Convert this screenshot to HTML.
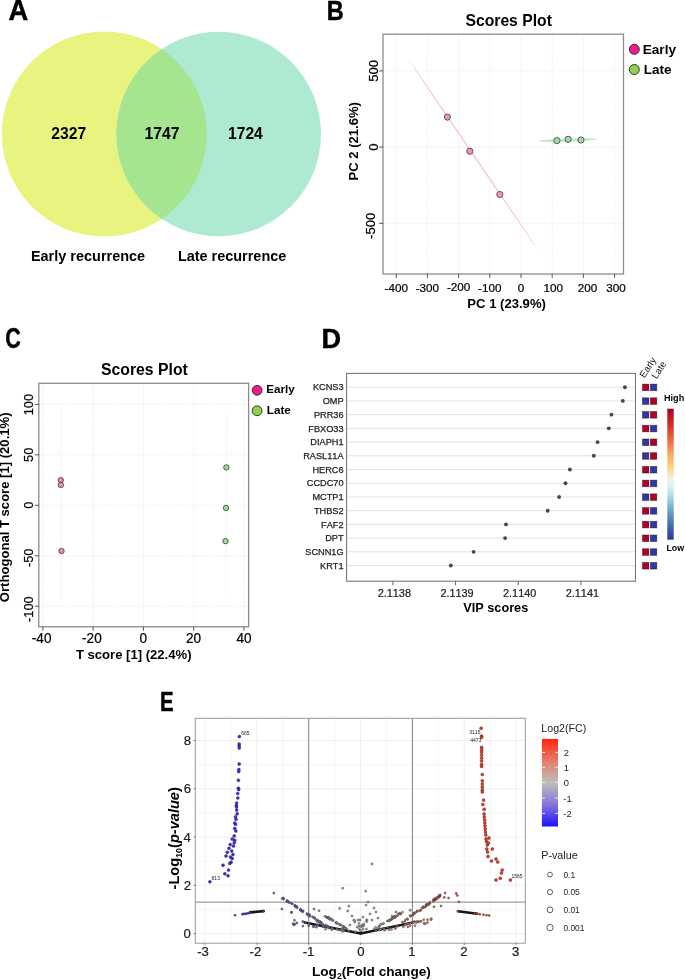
<!DOCTYPE html>
<html><head><meta charset="utf-8"><style>html,body{margin:0;padding:0;background:#fff;overflow:hidden;}svg{display:block;}#w{width:685px;height:980px;overflow:hidden;will-change:transform;}</style></head><body><div id="w">
<svg width="685" height="980" viewBox="0 0 685 980" font-family="Liberation Sans, sans-serif" style="font-kerning:none">
<g>
<rect width="685" height="980" fill="#fff"/>
<defs><clipPath id="cl"><circle cx="104.3" cy="134.0" r="102.5"/></clipPath></defs>
<circle cx="104.3" cy="134.0" r="102.5" fill="#E9F380"/>
<circle cx="218.7" cy="134.0" r="102.3" fill="#AEE9D1"/>
<circle cx="218.7" cy="134.0" r="102.3" fill="#A6E590" clip-path="url(#cl)"/>
<text transform="matrix(0.9480,0,0,1,8.54,19.67)" x="0" y="0" font-size="28.85" font-weight="bold" fill="#000" stroke="#000" stroke-width="0.45" stroke-linejoin="round">A</text>
<text x="51.26" y="139.00" font-size="15.70" font-weight="bold" font-style="normal" fill="#000" >2327</text>
<text x="144.41" y="138.50" font-size="15.77" font-weight="bold" font-style="normal" fill="#000" >1747</text>
<text x="228.02" y="138.50" font-size="15.63" font-weight="bold" font-style="normal" fill="#000" >1724</text>
<text x="30.93" y="261.10" font-size="14.47" font-weight="bold" font-style="normal" fill="#000" >Early recurrence</text>
<text x="177.93" y="260.50" font-size="14.44" font-weight="bold" font-style="normal" fill="#000" >Late recurrence</text>
<line x1="396.24" y1="34.2" x2="396.24" y2="274.0" stroke="#dedede" stroke-width="0.7" stroke-dasharray="1,1.4"/>
<line x1="427.43" y1="34.2" x2="427.43" y2="274.0" stroke="#dedede" stroke-width="0.7" stroke-dasharray="1,1.4"/>
<line x1="458.62" y1="34.2" x2="458.62" y2="274.0" stroke="#dedede" stroke-width="0.7" stroke-dasharray="1,1.4"/>
<line x1="489.81" y1="34.2" x2="489.81" y2="274.0" stroke="#dedede" stroke-width="0.7" stroke-dasharray="1,1.4"/>
<line x1="521.00" y1="34.2" x2="521.00" y2="274.0" stroke="#dedede" stroke-width="0.7" stroke-dasharray="1,1.4"/>
<line x1="552.19" y1="34.2" x2="552.19" y2="274.0" stroke="#dedede" stroke-width="0.7" stroke-dasharray="1,1.4"/>
<line x1="583.38" y1="34.2" x2="583.38" y2="274.0" stroke="#dedede" stroke-width="0.7" stroke-dasharray="1,1.4"/>
<line x1="614.57" y1="34.2" x2="614.57" y2="274.0" stroke="#dedede" stroke-width="0.7" stroke-dasharray="1,1.4"/>
<line x1="383.0" y1="223.30" x2="623.5" y2="223.30" stroke="#dedede" stroke-width="0.7" stroke-dasharray="1,1.4"/>
<line x1="383.0" y1="147.10" x2="623.5" y2="147.10" stroke="#dedede" stroke-width="0.7" stroke-dasharray="1,1.4"/>
<line x1="383.0" y1="70.90" x2="623.5" y2="70.90" stroke="#dedede" stroke-width="0.7" stroke-dasharray="1,1.4"/>
<ellipse cx="472.85" cy="154.05" rx="114.5" ry="0.72" transform="rotate(55.77 472.85 154.05)" fill="#F7C6D4"/>
<ellipse cx="568.4" cy="140.2" rx="29.5" ry="1.6" transform="rotate(-2 568.4 140.2)" fill="#BDE5BD" opacity="0.9"/>
<circle cx="447.4" cy="117.1" r="3.1" fill="#F394B2" stroke="#474747" stroke-width="0.85"/>
<circle cx="469.8" cy="151.2" r="3.1" fill="#F394B2" stroke="#474747" stroke-width="0.85"/>
<circle cx="499.8" cy="194.5" r="3.1" fill="#F394B2" stroke="#474747" stroke-width="0.85"/>
<circle cx="556.9" cy="140.6" r="3.1" fill="#A2DCA2" stroke="#474747" stroke-width="0.85"/>
<circle cx="568.1" cy="139.3" r="3.1" fill="#A2DCA2" stroke="#474747" stroke-width="0.85"/>
<circle cx="581.0" cy="140.0" r="3.1" fill="#A2DCA2" stroke="#474747" stroke-width="0.85"/>
<rect x="383.0" y="34.2" width="240.5" height="239.8" fill="none" stroke="#8c8c8c" stroke-width="1.3"/>
<line x1="396.24" y1="274.0" x2="396.24" y2="278.0" stroke="#444" stroke-width="0.9"/>
<text x="384.50" y="291.80" font-size="11.70" font-weight="normal" font-style="normal" fill="#000" text-anchor="start" stroke="#000" stroke-width="0.22" >-400</text>
<line x1="427.43" y1="274.0" x2="427.43" y2="278.0" stroke="#444" stroke-width="0.9"/>
<text x="415.69" y="291.80" font-size="11.70" font-weight="normal" font-style="normal" fill="#000" text-anchor="start" stroke="#000" stroke-width="0.22" >-300</text>
<line x1="458.62" y1="274.0" x2="458.62" y2="278.0" stroke="#444" stroke-width="0.9"/>
<text x="446.88" y="291.00" font-size="11.70" font-weight="normal" font-style="normal" fill="#000" text-anchor="start" stroke="#000" stroke-width="0.22" >-200</text>
<line x1="489.81" y1="274.0" x2="489.81" y2="278.0" stroke="#444" stroke-width="0.9"/>
<text x="478.07" y="291.80" font-size="11.70" font-weight="normal" font-style="normal" fill="#000" text-anchor="start" stroke="#000" stroke-width="0.22" >-100</text>
<line x1="521.00" y1="274.0" x2="521.00" y2="278.0" stroke="#444" stroke-width="0.9"/>
<text x="517.75" y="291.80" font-size="11.70" font-weight="normal" font-style="normal" fill="#000" text-anchor="start" stroke="#000" stroke-width="0.22" >0</text>
<line x1="552.19" y1="274.0" x2="552.19" y2="278.0" stroke="#444" stroke-width="0.9"/>
<text x="543.41" y="291.80" font-size="11.70" font-weight="normal" font-style="normal" fill="#000" text-anchor="start" stroke="#000" stroke-width="0.22" >100</text>
<line x1="583.38" y1="274.0" x2="583.38" y2="278.0" stroke="#444" stroke-width="0.9"/>
<text x="577.75" y="291.80" font-size="11.70" font-weight="normal" font-style="normal" fill="#000" text-anchor="start" stroke="#000" stroke-width="0.22" >200</text>
<line x1="614.57" y1="274.0" x2="614.57" y2="278.0" stroke="#444" stroke-width="0.9"/>
<text x="606.22" y="291.80" font-size="11.70" font-weight="normal" font-style="normal" fill="#000" text-anchor="start" stroke="#000" stroke-width="0.22" >300</text>
<line x1="379.0" y1="223.30" x2="383.0" y2="223.30" stroke="#444" stroke-width="0.9"/>
<text transform="translate(374.70,238.94) rotate(-90)" x="0" y="0" font-size="13.10" font-weight="normal" font-style="normal" fill="#000" stroke="#000" stroke-width="0.22">-500</text>
<line x1="379.0" y1="147.10" x2="383.0" y2="147.10" stroke="#444" stroke-width="0.9"/>
<text transform="translate(377.70,150.74) rotate(-90)" x="0" y="0" font-size="13.10" font-weight="normal" font-style="normal" fill="#000" stroke="#000" stroke-width="0.22">0</text>
<line x1="379.0" y1="70.90" x2="383.0" y2="70.90" stroke="#444" stroke-width="0.9"/>
<text transform="translate(377.70,81.83) rotate(-90)" x="0" y="0" font-size="13.10" font-weight="normal" font-style="normal" fill="#000" stroke="#000" stroke-width="0.22">500</text>
<text transform="matrix(0.8409,0,0,1,326.65,20.47)" x="0" y="0" font-size="27.98" font-weight="bold" fill="#000" stroke="#000" stroke-width="0.45" stroke-linejoin="round">B</text>
<text x="465.45" y="26.20" font-size="15.73" font-weight="bold" font-style="normal" fill="#000" >Scores Plot</text>
<text x="467.32" y="308.20" font-size="13.10" font-weight="bold" font-style="normal" fill="#000" >PC 1 (23.9%)</text>
<text transform="translate(357.60,180.47) rotate(-90)" x="0" y="0" font-size="13.07" font-weight="bold" font-style="normal" fill="#000">PC 2 (21.6%)</text>
<circle cx="634.3" cy="49.35" r="5.0" fill="#EC1E8C" stroke="#222" stroke-width="0.9"/>
<circle cx="634.3" cy="69.55" r="5.0" fill="#8FD14F" stroke="#222" stroke-width="0.9"/>
<text x="642.69" y="53.70" font-size="13.65" font-weight="bold" font-style="normal" fill="#000" >Early</text>
<text x="643.70" y="74.20" font-size="13.50" font-weight="bold" font-style="normal" fill="#000" >Late</text>
<line x1="42.88" y1="383.3" x2="42.88" y2="626.8" stroke="#dedede" stroke-width="0.7" stroke-dasharray="1,1.4"/>
<line x1="93.14" y1="383.3" x2="93.14" y2="626.8" stroke="#dedede" stroke-width="0.7" stroke-dasharray="1,1.4"/>
<line x1="143.40" y1="383.3" x2="143.40" y2="626.8" stroke="#dedede" stroke-width="0.7" stroke-dasharray="1,1.4"/>
<line x1="193.66" y1="383.3" x2="193.66" y2="626.8" stroke="#dedede" stroke-width="0.7" stroke-dasharray="1,1.4"/>
<line x1="243.92" y1="383.3" x2="243.92" y2="626.8" stroke="#dedede" stroke-width="0.7" stroke-dasharray="1,1.4"/>
<line x1="38.8" y1="606.25" x2="248.6" y2="606.25" stroke="#dedede" stroke-width="0.7" stroke-dasharray="1,1.4"/>
<line x1="38.8" y1="555.77" x2="248.6" y2="555.77" stroke="#dedede" stroke-width="0.7" stroke-dasharray="1,1.4"/>
<line x1="38.8" y1="505.30" x2="248.6" y2="505.30" stroke="#dedede" stroke-width="0.7" stroke-dasharray="1,1.4"/>
<line x1="38.8" y1="454.82" x2="248.6" y2="454.82" stroke="#dedede" stroke-width="0.7" stroke-dasharray="1,1.4"/>
<line x1="38.8" y1="404.35" x2="248.6" y2="404.35" stroke="#dedede" stroke-width="0.7" stroke-dasharray="1,1.4"/>
<line x1="60.8" y1="409" x2="61.2" y2="600" stroke="#FDEEF2" stroke-width="0.8"/>
<line x1="226.6" y1="415.7" x2="225.8" y2="593" stroke="#EEF8EE" stroke-width="0.8"/>
<circle cx="60.8" cy="480.2" r="2.7" fill="#F28DAD" stroke="#3a3a3a" stroke-width="0.8"/>
<circle cx="60.8" cy="484.9" r="2.7" fill="#F28DAD" stroke="#3a3a3a" stroke-width="0.8"/>
<circle cx="61.5" cy="551.0" r="2.7" fill="#F28DAD" stroke="#3a3a3a" stroke-width="0.8"/>
<circle cx="226.4" cy="467.4" r="2.7" fill="#9FDB9F" stroke="#3a3a3a" stroke-width="0.8"/>
<circle cx="226.0" cy="507.9" r="2.7" fill="#9FDB9F" stroke="#3a3a3a" stroke-width="0.8"/>
<circle cx="225.5" cy="541.1" r="2.7" fill="#9FDB9F" stroke="#3a3a3a" stroke-width="0.8"/>
<rect x="38.8" y="383.3" width="209.8" height="243.49999999999994" fill="none" stroke="#8c8c8c" stroke-width="1.3"/>
<line x1="42.88" y1="626.8" x2="42.88" y2="630.8" stroke="#444" stroke-width="0.9"/>
<text transform="matrix(1.0000,0,0,1.0700,31.82,642.60)" font-size="13.60" font-weight="normal" font-style="normal" fill="#000"  stroke="#000" stroke-width="0.22" >-40</text>
<line x1="93.14" y1="626.8" x2="93.14" y2="630.8" stroke="#444" stroke-width="0.9"/>
<text transform="matrix(1.0000,0,0,1.0700,82.08,642.60)" font-size="13.60" font-weight="normal" font-style="normal" fill="#000"  stroke="#000" stroke-width="0.22" >-20</text>
<line x1="143.40" y1="626.8" x2="143.40" y2="630.8" stroke="#444" stroke-width="0.9"/>
<text transform="matrix(1.0000,0,0,1.0700,139.62,642.60)" font-size="13.60" font-weight="normal" font-style="normal" fill="#000"  stroke="#000" stroke-width="0.22" >0</text>
<line x1="193.66" y1="626.8" x2="193.66" y2="630.8" stroke="#444" stroke-width="0.9"/>
<text transform="matrix(1.0000,0,0,1.0700,186.02,642.60)" font-size="13.60" font-weight="normal" font-style="normal" fill="#000"  stroke="#000" stroke-width="0.22" >20</text>
<line x1="243.92" y1="626.8" x2="243.92" y2="630.8" stroke="#444" stroke-width="0.9"/>
<text transform="matrix(1.0000,0,0,1.0700,236.47,642.60)" font-size="13.60" font-weight="normal" font-style="normal" fill="#000"  stroke="#000" stroke-width="0.22" >40</text>
<line x1="34.8" y1="606.25" x2="38.8" y2="606.25" stroke="#444" stroke-width="0.9"/>
<text transform="translate(32.90,621.89) rotate(-90)" x="0" y="0" font-size="12.80" font-weight="normal" font-style="normal" fill="#000" stroke="#000" stroke-width="0.22">-100</text>
<line x1="34.8" y1="555.77" x2="38.8" y2="555.77" stroke="#444" stroke-width="0.9"/>
<text transform="translate(32.90,567.06) rotate(-90)" x="0" y="0" font-size="12.80" font-weight="normal" font-style="normal" fill="#000" stroke="#000" stroke-width="0.22">-50</text>
<line x1="34.8" y1="505.30" x2="38.8" y2="505.30" stroke="#444" stroke-width="0.9"/>
<text transform="translate(32.90,508.86) rotate(-90)" x="0" y="0" font-size="12.80" font-weight="normal" font-style="normal" fill="#000" stroke="#000" stroke-width="0.22">0</text>
<line x1="34.8" y1="454.82" x2="38.8" y2="454.82" stroke="#444" stroke-width="0.9"/>
<text transform="translate(32.90,461.95) rotate(-90)" x="0" y="0" font-size="12.80" font-weight="normal" font-style="normal" fill="#000" stroke="#000" stroke-width="0.22">50</text>
<line x1="34.8" y1="404.35" x2="38.8" y2="404.35" stroke="#444" stroke-width="0.9"/>
<text transform="translate(32.90,415.27) rotate(-90)" x="0" y="0" font-size="12.80" font-weight="normal" font-style="normal" fill="#000" stroke="#000" stroke-width="0.22">100</text>
<text transform="matrix(0.7440,0,0,1,5.24,348.19)" x="0" y="0" font-size="28.88" font-weight="bold" fill="#000" stroke="#000" stroke-width="0.45" stroke-linejoin="round">C</text>
<text x="101.05" y="374.60" font-size="15.78" font-weight="bold" font-style="normal" fill="#000" >Scores Plot</text>
<text x="75.95" y="659.30" font-size="13.09" font-weight="bold" font-style="normal" fill="#000" >T score [1] (22.4%)</text>
<text transform="translate(9.40,602.14) rotate(-90)" x="0" y="0" font-size="13.09" font-weight="bold" font-style="normal" fill="#000">Orthogonal T score [1] (20.1%)</text>
<circle cx="257.1" cy="390.3" r="4.9" fill="#EC1E8C" stroke="#222" stroke-width="0.9"/>
<circle cx="257.1" cy="410.8" r="4.9" fill="#8FD14F" stroke="#222" stroke-width="0.9"/>
<text x="266.32" y="393.30" font-size="11.67" font-weight="bold" font-style="normal" fill="#000" >Early</text>
<text x="266.71" y="413.80" font-size="11.76" font-weight="bold" font-style="normal" fill="#000" >Late</text>
<line x1="346.6" y1="387.20" x2="635.5" y2="387.20" stroke="#e2e2e2" stroke-width="1"/>
<circle cx="624.9" cy="387.20" r="1.95" fill="#484848"/>
<text transform="matrix(1.0000,0,0,1.0000,312.92,390.40)" font-size="9.20" font-weight="normal" font-style="normal" fill="#222" stroke="#222" stroke-width="0.25">KCNS3</text>
<rect x="642.50" y="384.10" width="6.4" height="6.6" fill="#B2002B" stroke="rgba(0,0,0,0.55)" stroke-width="0.7"/>
<rect x="650.40" y="384.10" width="6.4" height="6.6" fill="#3536A3" stroke="rgba(0,0,0,0.55)" stroke-width="0.7"/>
<line x1="346.6" y1="400.92" x2="635.5" y2="400.92" stroke="#e2e2e2" stroke-width="1"/>
<circle cx="622.8" cy="400.92" r="1.95" fill="#484848"/>
<text transform="matrix(1.0000,0,0,1.0000,322.64,404.12)" font-size="9.20" font-weight="normal" font-style="normal" fill="#222" stroke="#222" stroke-width="0.25">OMP</text>
<rect x="642.50" y="397.82" width="6.4" height="6.6" fill="#3536A3" stroke="rgba(0,0,0,0.55)" stroke-width="0.7"/>
<rect x="650.40" y="397.82" width="6.4" height="6.6" fill="#B2002B" stroke="rgba(0,0,0,0.55)" stroke-width="0.7"/>
<line x1="346.6" y1="414.64" x2="635.5" y2="414.64" stroke="#e2e2e2" stroke-width="1"/>
<circle cx="611.4" cy="414.64" r="1.95" fill="#484848"/>
<text transform="matrix(1.0000,0,0,1.0000,313.94,417.84)" font-size="9.20" font-weight="normal" font-style="normal" fill="#222" stroke="#222" stroke-width="0.25">PRR36</text>
<rect x="642.50" y="411.54" width="6.4" height="6.6" fill="#3536A3" stroke="rgba(0,0,0,0.55)" stroke-width="0.7"/>
<rect x="650.40" y="411.54" width="6.4" height="6.6" fill="#B2002B" stroke="rgba(0,0,0,0.55)" stroke-width="0.7"/>
<line x1="346.6" y1="428.36" x2="635.5" y2="428.36" stroke="#e2e2e2" stroke-width="1"/>
<circle cx="608.8" cy="428.36" r="1.95" fill="#484848"/>
<text transform="matrix(1.0000,0,0,1.0000,308.32,431.56)" font-size="9.20" font-weight="normal" font-style="normal" fill="#222" stroke="#222" stroke-width="0.25">FBXO33</text>
<rect x="642.50" y="425.26" width="6.4" height="6.6" fill="#B2002B" stroke="rgba(0,0,0,0.55)" stroke-width="0.7"/>
<rect x="650.40" y="425.26" width="6.4" height="6.6" fill="#3536A3" stroke="rgba(0,0,0,0.55)" stroke-width="0.7"/>
<line x1="346.6" y1="442.08" x2="635.5" y2="442.08" stroke="#e2e2e2" stroke-width="1"/>
<circle cx="597.6" cy="442.08" r="1.95" fill="#484848"/>
<text transform="matrix(1.0000,0,0,1.0000,310.37,445.28)" font-size="9.20" font-weight="normal" font-style="normal" fill="#222" stroke="#222" stroke-width="0.25">DIAPH1</text>
<rect x="642.50" y="438.98" width="6.4" height="6.6" fill="#3536A3" stroke="rgba(0,0,0,0.55)" stroke-width="0.7"/>
<rect x="650.40" y="438.98" width="6.4" height="6.6" fill="#B2002B" stroke="rgba(0,0,0,0.55)" stroke-width="0.7"/>
<line x1="346.6" y1="455.80" x2="635.5" y2="455.80" stroke="#e2e2e2" stroke-width="1"/>
<circle cx="593.8" cy="455.80" r="1.95" fill="#484848"/>
<text transform="matrix(1.0000,0,0,1.0000,303.20,459.00)" font-size="9.20" font-weight="normal" font-style="normal" fill="#222" stroke="#222" stroke-width="0.25">RASL11A</text>
<rect x="642.50" y="452.70" width="6.4" height="6.6" fill="#3536A3" stroke="rgba(0,0,0,0.55)" stroke-width="0.7"/>
<rect x="650.40" y="452.70" width="6.4" height="6.6" fill="#B2002B" stroke="rgba(0,0,0,0.55)" stroke-width="0.7"/>
<line x1="346.6" y1="469.52" x2="635.5" y2="469.52" stroke="#e2e2e2" stroke-width="1"/>
<circle cx="569.9" cy="469.52" r="1.95" fill="#484848"/>
<text transform="matrix(1.0000,0,0,1.0000,312.42,472.72)" font-size="9.20" font-weight="normal" font-style="normal" fill="#222" stroke="#222" stroke-width="0.25">HERC6</text>
<rect x="642.50" y="466.42" width="6.4" height="6.6" fill="#B2002B" stroke="rgba(0,0,0,0.55)" stroke-width="0.7"/>
<rect x="650.40" y="466.42" width="6.4" height="6.6" fill="#3536A3" stroke="rgba(0,0,0,0.55)" stroke-width="0.7"/>
<line x1="346.6" y1="483.24" x2="635.5" y2="483.24" stroke="#e2e2e2" stroke-width="1"/>
<circle cx="565.5" cy="483.24" r="1.95" fill="#484848"/>
<text transform="matrix(1.0000,0,0,1.0000,306.79,486.44)" font-size="9.20" font-weight="normal" font-style="normal" fill="#222" stroke="#222" stroke-width="0.25">CCDC70</text>
<rect x="642.50" y="480.14" width="6.4" height="6.6" fill="#B2002B" stroke="rgba(0,0,0,0.55)" stroke-width="0.7"/>
<rect x="650.40" y="480.14" width="6.4" height="6.6" fill="#3536A3" stroke="rgba(0,0,0,0.55)" stroke-width="0.7"/>
<line x1="346.6" y1="496.96" x2="635.5" y2="496.96" stroke="#e2e2e2" stroke-width="1"/>
<circle cx="559.1" cy="496.96" r="1.95" fill="#484848"/>
<text transform="matrix(1.0000,0,0,1.0000,312.42,500.16)" font-size="9.20" font-weight="normal" font-style="normal" fill="#222" stroke="#222" stroke-width="0.25">MCTP1</text>
<rect x="642.50" y="493.86" width="6.4" height="6.6" fill="#3536A3" stroke="rgba(0,0,0,0.55)" stroke-width="0.7"/>
<rect x="650.40" y="493.86" width="6.4" height="6.6" fill="#B2002B" stroke="rgba(0,0,0,0.55)" stroke-width="0.7"/>
<line x1="346.6" y1="510.68" x2="635.5" y2="510.68" stroke="#e2e2e2" stroke-width="1"/>
<circle cx="547.7" cy="510.68" r="1.95" fill="#484848"/>
<text transform="matrix(1.0000,0,0,1.0000,313.95,513.88)" font-size="9.20" font-weight="normal" font-style="normal" fill="#222" stroke="#222" stroke-width="0.25">THBS2</text>
<rect x="642.50" y="507.58" width="6.4" height="6.6" fill="#B2002B" stroke="rgba(0,0,0,0.55)" stroke-width="0.7"/>
<rect x="650.40" y="507.58" width="6.4" height="6.6" fill="#3536A3" stroke="rgba(0,0,0,0.55)" stroke-width="0.7"/>
<line x1="346.6" y1="524.40" x2="635.5" y2="524.40" stroke="#e2e2e2" stroke-width="1"/>
<circle cx="506.0" cy="524.40" r="1.95" fill="#484848"/>
<text transform="matrix(1.0000,0,0,1.0000,321.11,527.60)" font-size="9.20" font-weight="normal" font-style="normal" fill="#222" stroke="#222" stroke-width="0.25">FAF2</text>
<rect x="642.50" y="521.30" width="6.4" height="6.6" fill="#B2002B" stroke="rgba(0,0,0,0.55)" stroke-width="0.7"/>
<rect x="650.40" y="521.30" width="6.4" height="6.6" fill="#3536A3" stroke="rgba(0,0,0,0.55)" stroke-width="0.7"/>
<line x1="346.6" y1="538.12" x2="635.5" y2="538.12" stroke="#e2e2e2" stroke-width="1"/>
<circle cx="505.1" cy="538.12" r="1.95" fill="#484848"/>
<text transform="matrix(1.0000,0,0,1.0000,325.20,541.32)" font-size="9.20" font-weight="normal" font-style="normal" fill="#222" stroke="#222" stroke-width="0.25">DPT</text>
<rect x="642.50" y="535.02" width="6.4" height="6.6" fill="#B2002B" stroke="rgba(0,0,0,0.55)" stroke-width="0.7"/>
<rect x="650.40" y="535.02" width="6.4" height="6.6" fill="#3536A3" stroke="rgba(0,0,0,0.55)" stroke-width="0.7"/>
<line x1="346.6" y1="551.84" x2="635.5" y2="551.84" stroke="#e2e2e2" stroke-width="1"/>
<circle cx="473.6" cy="551.84" r="1.95" fill="#484848"/>
<text transform="matrix(1.0000,0,0,1.0000,305.26,555.04)" font-size="9.20" font-weight="normal" font-style="normal" fill="#222" stroke="#222" stroke-width="0.25">SCNN1G</text>
<rect x="642.50" y="548.74" width="6.4" height="6.6" fill="#B2002B" stroke="rgba(0,0,0,0.55)" stroke-width="0.7"/>
<rect x="650.40" y="548.74" width="6.4" height="6.6" fill="#3536A3" stroke="rgba(0,0,0,0.55)" stroke-width="0.7"/>
<line x1="346.6" y1="565.56" x2="635.5" y2="565.56" stroke="#e2e2e2" stroke-width="1"/>
<circle cx="450.8" cy="565.56" r="1.95" fill="#484848"/>
<text transform="matrix(1.0000,0,0,1.0000,320.08,568.76)" font-size="9.20" font-weight="normal" font-style="normal" fill="#222" stroke="#222" stroke-width="0.25">KRT1</text>
<rect x="642.50" y="562.46" width="6.4" height="6.6" fill="#B2002B" stroke="rgba(0,0,0,0.55)" stroke-width="0.7"/>
<rect x="650.40" y="562.46" width="6.4" height="6.6" fill="#3536A3" stroke="rgba(0,0,0,0.55)" stroke-width="0.7"/>
<rect x="346.6" y="373.4" width="288.9" height="207.80000000000007" fill="none" stroke="#777" stroke-width="1.1"/>
<line x1="392.90" y1="581.2" x2="392.90" y2="585.2" stroke="#555" stroke-width="0.9"/>
<text transform="matrix(1.0000,0,0,1.0800,377.69,597.10)" font-size="10.90" font-weight="normal" font-style="normal" fill="#222"  stroke="#222" stroke-width="0.22" >2.1138</text>
<line x1="455.57" y1="581.2" x2="455.57" y2="585.2" stroke="#555" stroke-width="0.9"/>
<text transform="matrix(1.0000,0,0,1.0800,440.38,597.10)" font-size="10.90" font-weight="normal" font-style="normal" fill="#222"  stroke="#222" stroke-width="0.22" >2.1139</text>
<line x1="518.24" y1="581.2" x2="518.24" y2="585.2" stroke="#555" stroke-width="0.9"/>
<text transform="matrix(1.0000,0,0,1.0800,503.01,597.10)" font-size="10.90" font-weight="normal" font-style="normal" fill="#222"  stroke="#222" stroke-width="0.22" >2.1140</text>
<line x1="580.91" y1="581.2" x2="580.91" y2="585.2" stroke="#555" stroke-width="0.9"/>
<text transform="matrix(1.0000,0,0,1.0800,565.73,597.10)" font-size="10.90" font-weight="normal" font-style="normal" fill="#222"  stroke="#222" stroke-width="0.22" >2.1141</text>
<text transform="matrix(0.9653,0,0,1,321.41,347.77)" x="0" y="0" font-size="28.13" font-weight="bold" fill="#000" stroke="#000" stroke-width="0.45" stroke-linejoin="round">D</text>
<text x="463.31" y="612.20" font-size="12.69" font-weight="bold" font-style="normal" fill="#000" >VIP scores</text>
<text transform="translate(644.6,378.4) rotate(-57)" font-size="9.6" fill="#111">Early</text>
<text transform="translate(656.6,379.4) rotate(-57)" font-size="9.6" fill="#111">Late</text>
<text x="663.99" y="400.80" font-size="9.13" font-weight="bold" font-style="normal" fill="#000" >High</text>
<text x="666.50" y="551.00" font-size="8.80" font-weight="bold" font-style="normal" fill="#000" text-anchor="start" >Low</text>
<defs><linearGradient id="rdylbu" x1="0" y1="0" x2="0" y2="1"><stop offset="0" stop-color="#A50026"/><stop offset="0.13" stop-color="#D73027"/><stop offset="0.25" stop-color="#F46D43"/><stop offset="0.36" stop-color="#FDAE61"/><stop offset="0.46" stop-color="#FBD98C"/><stop offset="0.53" stop-color="#F0F0DC"/><stop offset="0.58" stop-color="#E0F3F8"/><stop offset="0.67" stop-color="#ABD9E9"/><stop offset="0.76" stop-color="#74ADD1"/><stop offset="0.87" stop-color="#4575B4"/><stop offset="1" stop-color="#313695"/></linearGradient></defs>
<rect x="667.3" y="408.7" width="6.4" height="131" fill="url(#rdylbu)"/>
<line x1="205.00" y1="718.3" x2="205.00" y2="943.2" stroke="#EDEDED" stroke-width="0.9"/>
<line x1="230.93" y1="718.3" x2="230.93" y2="943.2" stroke="#EDEDED" stroke-width="0.5"/>
<line x1="256.85" y1="718.3" x2="256.85" y2="943.2" stroke="#EDEDED" stroke-width="0.9"/>
<line x1="282.77" y1="718.3" x2="282.77" y2="943.2" stroke="#EDEDED" stroke-width="0.5"/>
<line x1="308.70" y1="718.3" x2="308.70" y2="943.2" stroke="#EDEDED" stroke-width="0.9"/>
<line x1="334.62" y1="718.3" x2="334.62" y2="943.2" stroke="#EDEDED" stroke-width="0.5"/>
<line x1="360.55" y1="718.3" x2="360.55" y2="943.2" stroke="#EDEDED" stroke-width="0.9"/>
<line x1="386.48" y1="718.3" x2="386.48" y2="943.2" stroke="#EDEDED" stroke-width="0.5"/>
<line x1="412.40" y1="718.3" x2="412.40" y2="943.2" stroke="#EDEDED" stroke-width="0.9"/>
<line x1="438.33" y1="718.3" x2="438.33" y2="943.2" stroke="#EDEDED" stroke-width="0.5"/>
<line x1="464.25" y1="718.3" x2="464.25" y2="943.2" stroke="#EDEDED" stroke-width="0.9"/>
<line x1="490.18" y1="718.3" x2="490.18" y2="943.2" stroke="#EDEDED" stroke-width="0.5"/>
<line x1="516.10" y1="718.3" x2="516.10" y2="943.2" stroke="#EDEDED" stroke-width="0.9"/>
<line x1="195.3" y1="933.50" x2="525.3" y2="933.50" stroke="#EDEDED" stroke-width="0.9"/>
<line x1="195.3" y1="909.38" x2="525.3" y2="909.38" stroke="#EDEDED" stroke-width="0.5"/>
<line x1="195.3" y1="885.25" x2="525.3" y2="885.25" stroke="#EDEDED" stroke-width="0.9"/>
<line x1="195.3" y1="861.12" x2="525.3" y2="861.12" stroke="#EDEDED" stroke-width="0.5"/>
<line x1="195.3" y1="837.00" x2="525.3" y2="837.00" stroke="#EDEDED" stroke-width="0.9"/>
<line x1="195.3" y1="812.88" x2="525.3" y2="812.88" stroke="#EDEDED" stroke-width="0.5"/>
<line x1="195.3" y1="788.75" x2="525.3" y2="788.75" stroke="#EDEDED" stroke-width="0.9"/>
<line x1="195.3" y1="764.62" x2="525.3" y2="764.62" stroke="#EDEDED" stroke-width="0.5"/>
<line x1="195.3" y1="740.50" x2="525.3" y2="740.50" stroke="#EDEDED" stroke-width="0.9"/>
<line x1="250.1" y1="912.4" x2="263.6" y2="911.1" stroke="#151515" stroke-width="2.6" stroke-linecap="round"/>
<line x1="458.0" y1="911.2" x2="477.2" y2="913.7" stroke="#151515" stroke-width="2.6" stroke-linecap="round"/>
<line x1="360.6" y1="933.5" x2="304.6" y2="922.5" stroke="#151515" stroke-width="2.3" stroke-linecap="round"/>
<line x1="360.6" y1="933.5" x2="412.4" y2="922.6" stroke="#151515" stroke-width="2.3" stroke-linecap="round"/>
<circle cx="239.4" cy="736.6" r="1.5" fill="#402ce2" stroke="#222" stroke-width="0.4"/>
<circle cx="239.2" cy="744.0" r="1.5" fill="#3f2ce2" stroke="#222" stroke-width="0.4"/>
<circle cx="239.2" cy="746.0" r="1.5" fill="#3f2ce2" stroke="#222" stroke-width="0.4"/>
<circle cx="239.2" cy="748.0" r="1.5" fill="#3f2ce2" stroke="#222" stroke-width="0.4"/>
<circle cx="239.2" cy="764.1" r="1.5" fill="#3f2ce2" stroke="#222" stroke-width="0.4"/>
<circle cx="238.9" cy="769.6" r="1.5" fill="#3f2ce2" stroke="#222" stroke-width="0.4"/>
<circle cx="238.7" cy="771.6" r="1.5" fill="#3f2ce3" stroke="#222" stroke-width="0.4"/>
<circle cx="238.4" cy="780.3" r="1.5" fill="#3f2ce3" stroke="#222" stroke-width="0.4"/>
<circle cx="238.4" cy="788.2" r="1.5" fill="#3f2ce3" stroke="#222" stroke-width="0.4"/>
<circle cx="238.7" cy="789.5" r="1.5" fill="#3f2ce3" stroke="#222" stroke-width="0.4"/>
<circle cx="237.7" cy="793.4" r="1.5" fill="#3f2ce3" stroke="#222" stroke-width="0.4"/>
<circle cx="236.7" cy="803.1" r="1.5" fill="#3e2ce4" stroke="#222" stroke-width="0.4"/>
<circle cx="236.4" cy="805.6" r="1.5" fill="#3e2ce4" stroke="#222" stroke-width="0.4"/>
<circle cx="236.7" cy="810.1" r="1.5" fill="#3e2ce4" stroke="#222" stroke-width="0.4"/>
<circle cx="237.2" cy="813.8" r="1.5" fill="#3f2ce4" stroke="#222" stroke-width="0.4"/>
<circle cx="235.5" cy="816.8" r="1.5" fill="#3e2ce5" stroke="#222" stroke-width="0.4"/>
<circle cx="236.0" cy="819.2" r="1.5" fill="#3e2ce5" stroke="#222" stroke-width="0.4"/>
<circle cx="234.7" cy="823.0" r="1.5" fill="#3d2be6" stroke="#222" stroke-width="0.4"/>
<circle cx="235.5" cy="824.2" r="1.5" fill="#3e2ce5" stroke="#222" stroke-width="0.4"/>
<circle cx="234.7" cy="828.4" r="1.5" fill="#3d2be6" stroke="#222" stroke-width="0.4"/>
<circle cx="234.2" cy="835.9" r="1.5" fill="#3d2be6" stroke="#222" stroke-width="0.4"/>
<circle cx="232.2" cy="839.1" r="1.5" fill="#3c2be8" stroke="#222" stroke-width="0.4"/>
<circle cx="234.7" cy="840.3" r="1.5" fill="#3d2be6" stroke="#222" stroke-width="0.4"/>
<circle cx="234.2" cy="842.8" r="1.5" fill="#3d2be6" stroke="#222" stroke-width="0.4"/>
<circle cx="230.2" cy="844.6" r="1.5" fill="#3b2be9" stroke="#222" stroke-width="0.4"/>
<circle cx="229.0" cy="848.3" r="1.5" fill="#3b2bea" stroke="#222" stroke-width="0.4"/>
<circle cx="231.7" cy="851.0" r="1.5" fill="#3c2be8" stroke="#222" stroke-width="0.4"/>
<circle cx="227.3" cy="852.3" r="1.5" fill="#3a2aec" stroke="#222" stroke-width="0.4"/>
<circle cx="233.0" cy="854.5" r="1.5" fill="#3d2be7" stroke="#222" stroke-width="0.4"/>
<circle cx="226.0" cy="856.0" r="1.5" fill="#392aed" stroke="#222" stroke-width="0.4"/>
<circle cx="232.2" cy="858.5" r="1.5" fill="#3c2be8" stroke="#222" stroke-width="0.4"/>
<circle cx="231.0" cy="862.2" r="1.5" fill="#3c2be9" stroke="#222" stroke-width="0.4"/>
<circle cx="229.8" cy="863.4" r="1.5" fill="#3b2bea" stroke="#222" stroke-width="0.4"/>
<circle cx="223.0" cy="865.2" r="1.5" fill="#382aef" stroke="#222" stroke-width="0.4"/>
<circle cx="228.5" cy="870.1" r="1.5" fill="#3a2aeb" stroke="#222" stroke-width="0.4"/>
<circle cx="224.8" cy="873.8" r="1.5" fill="#392aee" stroke="#222" stroke-width="0.4"/>
<circle cx="228.0" cy="875.8" r="1.5" fill="#3a2aeb" stroke="#222" stroke-width="0.4"/>
<circle cx="209.9" cy="881.8" r="1.5" fill="#3228fa" stroke="#222" stroke-width="0.4"/>
<circle cx="235.8" cy="831.0" r="1.5" fill="#3e2ce5" stroke="#222" stroke-width="0.4"/>
<circle cx="233.5" cy="846.0" r="1.5" fill="#3d2be7" stroke="#222" stroke-width="0.4"/>
<circle cx="230.5" cy="857.0" r="1.5" fill="#3b2be9" stroke="#222" stroke-width="0.4"/>
<circle cx="236.5" cy="807.0" r="1.5" fill="#3e2ce4" stroke="#222" stroke-width="0.4"/>
<circle cx="237.8" cy="798.0" r="1.5" fill="#3f2ce3" stroke="#222" stroke-width="0.4"/>
<circle cx="481.1" cy="728.2" r="1.5" fill="#f03b22" stroke="#222" stroke-width="0.4"/>
<circle cx="481.6" cy="736.1" r="1.5" fill="#f03b22" stroke="#222" stroke-width="0.4"/>
<circle cx="481.6" cy="737.3" r="1.5" fill="#f03b22" stroke="#222" stroke-width="0.4"/>
<circle cx="481.6" cy="747.3" r="1.5" fill="#f03b22" stroke="#222" stroke-width="0.4"/>
<circle cx="481.6" cy="749.5" r="1.5" fill="#f03b22" stroke="#222" stroke-width="0.4"/>
<circle cx="481.6" cy="752.0" r="1.5" fill="#f03b22" stroke="#222" stroke-width="0.4"/>
<circle cx="481.6" cy="755.0" r="1.5" fill="#f03b22" stroke="#222" stroke-width="0.4"/>
<circle cx="481.6" cy="758.0" r="1.5" fill="#f03b22" stroke="#222" stroke-width="0.4"/>
<circle cx="481.6" cy="761.0" r="1.5" fill="#f03b22" stroke="#222" stroke-width="0.4"/>
<circle cx="481.6" cy="764.6" r="1.5" fill="#f03b22" stroke="#222" stroke-width="0.4"/>
<circle cx="481.6" cy="766.4" r="1.5" fill="#f03b22" stroke="#222" stroke-width="0.4"/>
<circle cx="482.3" cy="774.6" r="1.5" fill="#f03b22" stroke="#222" stroke-width="0.4"/>
<circle cx="482.3" cy="780.8" r="1.5" fill="#f03b22" stroke="#222" stroke-width="0.4"/>
<circle cx="482.3" cy="784.0" r="1.5" fill="#f03b22" stroke="#222" stroke-width="0.4"/>
<circle cx="482.3" cy="787.0" r="1.5" fill="#f03b22" stroke="#222" stroke-width="0.4"/>
<circle cx="482.3" cy="790.0" r="1.5" fill="#f03b22" stroke="#222" stroke-width="0.4"/>
<circle cx="482.3" cy="792.0" r="1.5" fill="#f03b22" stroke="#222" stroke-width="0.4"/>
<circle cx="483.6" cy="800.1" r="1.5" fill="#f13a22" stroke="#222" stroke-width="0.4"/>
<circle cx="482.8" cy="804.4" r="1.5" fill="#f03b22" stroke="#222" stroke-width="0.4"/>
<circle cx="484.1" cy="809.3" r="1.5" fill="#f13a22" stroke="#222" stroke-width="0.4"/>
<circle cx="484.1" cy="814.0" r="1.5" fill="#f13a22" stroke="#222" stroke-width="0.4"/>
<circle cx="484.3" cy="817.0" r="1.5" fill="#f13a22" stroke="#222" stroke-width="0.4"/>
<circle cx="484.6" cy="820.0" r="1.5" fill="#f13a22" stroke="#222" stroke-width="0.4"/>
<circle cx="484.8" cy="823.0" r="1.5" fill="#f13a22" stroke="#222" stroke-width="0.4"/>
<circle cx="485.0" cy="826.0" r="1.5" fill="#f13a22" stroke="#222" stroke-width="0.4"/>
<circle cx="485.3" cy="829.0" r="1.5" fill="#f13a22" stroke="#222" stroke-width="0.4"/>
<circle cx="485.5" cy="832.0" r="1.5" fill="#f13a22" stroke="#222" stroke-width="0.4"/>
<circle cx="485.8" cy="835.0" r="1.5" fill="#f13a22" stroke="#222" stroke-width="0.4"/>
<circle cx="486.0" cy="839.0" r="1.5" fill="#f13a22" stroke="#222" stroke-width="0.4"/>
<circle cx="486.5" cy="841.6" r="1.5" fill="#f23921" stroke="#222" stroke-width="0.4"/>
<circle cx="487.3" cy="845.0" r="1.5" fill="#f23921" stroke="#222" stroke-width="0.4"/>
<circle cx="486.8" cy="849.0" r="1.5" fill="#f23921" stroke="#222" stroke-width="0.4"/>
<circle cx="487.5" cy="852.0" r="1.5" fill="#f23921" stroke="#222" stroke-width="0.4"/>
<circle cx="488.0" cy="856.5" r="1.5" fill="#f23921" stroke="#222" stroke-width="0.4"/>
<circle cx="492.3" cy="849.0" r="1.5" fill="#f43720" stroke="#222" stroke-width="0.4"/>
<circle cx="491.5" cy="861.0" r="1.5" fill="#f33821" stroke="#222" stroke-width="0.4"/>
<circle cx="496.0" cy="859.0" r="1.5" fill="#f53620" stroke="#222" stroke-width="0.4"/>
<circle cx="497.7" cy="862.0" r="1.5" fill="#f53620" stroke="#222" stroke-width="0.4"/>
<circle cx="502.2" cy="870.1" r="1.5" fill="#f7341f" stroke="#222" stroke-width="0.4"/>
<circle cx="501.5" cy="873.1" r="1.5" fill="#f6351f" stroke="#222" stroke-width="0.4"/>
<circle cx="500.2" cy="878.3" r="1.5" fill="#f6351f" stroke="#222" stroke-width="0.4"/>
<circle cx="496.0" cy="880.0" r="1.5" fill="#f53620" stroke="#222" stroke-width="0.4"/>
<circle cx="510.4" cy="880.0" r="1.5" fill="#f9321e" stroke="#222" stroke-width="0.4"/>
<circle cx="488.5" cy="843.0" r="1.5" fill="#f23921" stroke="#222" stroke-width="0.4"/>
<circle cx="489.0" cy="838.0" r="1.5" fill="#f23921" stroke="#222" stroke-width="0.4"/>
<circle cx="235.1" cy="915.2" r="1.05" fill="#3e2ce6" stroke="#222" stroke-width="0.4"/>
<circle cx="242.3" cy="914.2" r="1.05" fill="#422ee0" stroke="#222" stroke-width="0.4"/>
<circle cx="243.9" cy="913.9" r="1.05" fill="#4430df" stroke="#222" stroke-width="0.4"/>
<circle cx="245.4" cy="913.7" r="1.05" fill="#4531df" stroke="#222" stroke-width="0.4"/>
<circle cx="247.0" cy="913.5" r="1.05" fill="#4733de" stroke="#222" stroke-width="0.4"/>
<circle cx="248.6" cy="913.3" r="1.05" fill="#4935dd" stroke="#222" stroke-width="0.4"/>
<circle cx="250.1" cy="912.4" r="1.05" fill="#4b37dc" stroke="#222" stroke-width="0.4"/>
<circle cx="263.6" cy="911.1" r="1.05" fill="#5b47d6" stroke="#222" stroke-width="0.4"/>
<circle cx="458.0" cy="911.2" r="1.05" fill="#e85138" stroke="#222" stroke-width="0.4"/>
<circle cx="474.6" cy="913.5" r="1.05" fill="#ee4027" stroke="#222" stroke-width="0.4"/>
<circle cx="477.2" cy="913.9" r="1.05" fill="#ef3e25" stroke="#222" stroke-width="0.4"/>
<circle cx="479.8" cy="914.2" r="1.05" fill="#f03c23" stroke="#222" stroke-width="0.4"/>
<circle cx="483.4" cy="914.7" r="1.05" fill="#f13a22" stroke="#222" stroke-width="0.4"/>
<circle cx="486.5" cy="915.2" r="1.05" fill="#f23921" stroke="#222" stroke-width="0.4"/>
<circle cx="489.1" cy="915.5" r="1.05" fill="#f33921" stroke="#222" stroke-width="0.4"/>
<circle cx="325.8" cy="926.6" r="0.9" fill="#958bbe" stroke="#222" stroke-width="0.4"/>
<circle cx="305.7" cy="922.8" r="0.9" fill="#8475c4" stroke="#222" stroke-width="0.4"/>
<circle cx="323.4" cy="926.1" r="0.9" fill="#9389be" stroke="#222" stroke-width="0.4"/>
<circle cx="337.1" cy="928.9" r="0.9" fill="#9f98ba" stroke="#222" stroke-width="0.4"/>
<circle cx="318.2" cy="924.8" r="0.9" fill="#8f83c0" stroke="#222" stroke-width="0.4"/>
<circle cx="341.0" cy="930.0" r="0.9" fill="#a39db9" stroke="#222" stroke-width="0.4"/>
<circle cx="341.1" cy="929.3" r="0.9" fill="#a39db9" stroke="#222" stroke-width="0.4"/>
<circle cx="315.5" cy="925.4" r="0.9" fill="#8c7fc1" stroke="#222" stroke-width="0.4"/>
<circle cx="303.2" cy="921.6" r="0.9" fill="#8272c5" stroke="#222" stroke-width="0.4"/>
<circle cx="317.2" cy="924.9" r="0.9" fill="#8e81c0" stroke="#222" stroke-width="0.4"/>
<circle cx="338.3" cy="929.9" r="0.9" fill="#a09aba" stroke="#222" stroke-width="0.4"/>
<circle cx="322.5" cy="926.7" r="0.9" fill="#9388be" stroke="#222" stroke-width="0.4"/>
<circle cx="336.9" cy="929.3" r="0.9" fill="#9f98ba" stroke="#222" stroke-width="0.4"/>
<circle cx="343.7" cy="930.3" r="0.9" fill="#a5a0b8" stroke="#222" stroke-width="0.4"/>
<circle cx="326.3" cy="926.3" r="0.9" fill="#968cbd" stroke="#222" stroke-width="0.4"/>
<circle cx="322.9" cy="925.9" r="0.9" fill="#9388be" stroke="#222" stroke-width="0.4"/>
<circle cx="323.7" cy="926.1" r="0.9" fill="#9489be" stroke="#222" stroke-width="0.4"/>
<circle cx="325.6" cy="927.0" r="0.9" fill="#958bbe" stroke="#222" stroke-width="0.4"/>
<circle cx="302.6" cy="921.5" r="0.9" fill="#8272c5" stroke="#222" stroke-width="0.4"/>
<circle cx="309.3" cy="923.2" r="0.9" fill="#8778c2" stroke="#222" stroke-width="0.4"/>
<circle cx="331.6" cy="928.2" r="0.9" fill="#9a92bc" stroke="#222" stroke-width="0.4"/>
<circle cx="332.7" cy="928.7" r="0.9" fill="#9b93bc" stroke="#222" stroke-width="0.4"/>
<circle cx="404.7" cy="924.4" r="0.9" fill="#cd8978" stroke="#222" stroke-width="0.4"/>
<circle cx="407.7" cy="923.8" r="0.9" fill="#cf8674" stroke="#222" stroke-width="0.4"/>
<circle cx="411.9" cy="922.3" r="0.9" fill="#d1826e" stroke="#222" stroke-width="0.4"/>
<circle cx="376.1" cy="930.7" r="0.9" fill="#bda49e" stroke="#222" stroke-width="0.4"/>
<circle cx="410.1" cy="923.2" r="0.9" fill="#d08471" stroke="#222" stroke-width="0.4"/>
<circle cx="412.7" cy="922.7" r="0.9" fill="#d2816d" stroke="#222" stroke-width="0.4"/>
<circle cx="378.8" cy="929.5" r="0.9" fill="#bea29b" stroke="#222" stroke-width="0.4"/>
<circle cx="405.2" cy="924.5" r="0.9" fill="#cd8877" stroke="#222" stroke-width="0.4"/>
<circle cx="379.4" cy="929.8" r="0.9" fill="#bea19a" stroke="#222" stroke-width="0.4"/>
<circle cx="412.1" cy="922.3" r="0.9" fill="#d1826e" stroke="#222" stroke-width="0.4"/>
<circle cx="380.5" cy="929.7" r="0.9" fill="#bfa099" stroke="#222" stroke-width="0.4"/>
<circle cx="379.9" cy="930.1" r="0.9" fill="#bfa199" stroke="#222" stroke-width="0.4"/>
<circle cx="405.9" cy="924.5" r="0.9" fill="#ce8876" stroke="#222" stroke-width="0.4"/>
<circle cx="397.0" cy="925.9" r="0.9" fill="#c99082" stroke="#222" stroke-width="0.4"/>
<circle cx="383.2" cy="928.4" r="0.9" fill="#c19e95" stroke="#222" stroke-width="0.4"/>
<circle cx="381.0" cy="929.0" r="0.9" fill="#bfa098" stroke="#222" stroke-width="0.4"/>
<circle cx="380.5" cy="929.4" r="0.9" fill="#bfa099" stroke="#222" stroke-width="0.4"/>
<circle cx="384.1" cy="928.9" r="0.9" fill="#c19d94" stroke="#222" stroke-width="0.4"/>
<circle cx="412.4" cy="922.2" r="0.9" fill="#d1826e" stroke="#222" stroke-width="0.4"/>
<circle cx="387.5" cy="927.3" r="0.9" fill="#c39a8f" stroke="#222" stroke-width="0.4"/>
<circle cx="384.0" cy="928.7" r="0.9" fill="#c19d94" stroke="#222" stroke-width="0.4"/>
<circle cx="408.0" cy="923.4" r="0.9" fill="#cf8673" stroke="#222" stroke-width="0.4"/>
<circle cx="414.4" cy="921.5" r="1.05" fill="#d37f6b" stroke="#222" stroke-width="0.4"/>
<circle cx="416.6" cy="922.1" r="1.05" fill="#d47d68" stroke="#222" stroke-width="0.4"/>
<circle cx="427.6" cy="919.7" r="1.05" fill="#da7059" stroke="#222" stroke-width="0.4"/>
<circle cx="418.2" cy="922.0" r="1.05" fill="#d57b66" stroke="#222" stroke-width="0.4"/>
<circle cx="414.2" cy="922.2" r="1.05" fill="#d37f6b" stroke="#222" stroke-width="0.4"/>
<circle cx="417.2" cy="921.5" r="1.05" fill="#d47c67" stroke="#222" stroke-width="0.4"/>
<circle cx="419.7" cy="921.2" r="1.05" fill="#d67964" stroke="#222" stroke-width="0.4"/>
<circle cx="431.3" cy="918.7" r="1.05" fill="#dc6c54" stroke="#222" stroke-width="0.4"/>
<circle cx="423.7" cy="919.7" r="1.05" fill="#d8745e" stroke="#222" stroke-width="0.4"/>
<circle cx="416.0" cy="922.4" r="1.05" fill="#d47d69" stroke="#222" stroke-width="0.4"/>
<circle cx="287.0" cy="900.6" r="0.95" fill="#7663cb" stroke="#222" stroke-width="0.4"/>
<circle cx="317.8" cy="921.3" r="0.95" fill="#8e82c0" stroke="#222" stroke-width="0.4"/>
<circle cx="294.9" cy="905.4" r="0.95" fill="#7c6ac8" stroke="#222" stroke-width="0.4"/>
<circle cx="320.3" cy="921.4" r="0.95" fill="#9185bf" stroke="#222" stroke-width="0.4"/>
<circle cx="288.3" cy="901.8" r="0.95" fill="#7764ca" stroke="#222" stroke-width="0.4"/>
<circle cx="309.8" cy="916.4" r="0.95" fill="#8779c2" stroke="#222" stroke-width="0.4"/>
<circle cx="327.6" cy="926.1" r="0.95" fill="#978dbd" stroke="#222" stroke-width="0.4"/>
<circle cx="318.3" cy="920.7" r="0.95" fill="#8f83c0" stroke="#222" stroke-width="0.4"/>
<circle cx="317.4" cy="919.9" r="0.95" fill="#8e82c0" stroke="#222" stroke-width="0.4"/>
<circle cx="301.6" cy="910.9" r="0.95" fill="#8171c5" stroke="#222" stroke-width="0.4"/>
<circle cx="321.3" cy="922.5" r="0.95" fill="#9186bf" stroke="#222" stroke-width="0.4"/>
<circle cx="326.2" cy="926.6" r="0.95" fill="#968cbd" stroke="#222" stroke-width="0.4"/>
<circle cx="303.3" cy="910.9" r="0.95" fill="#8272c5" stroke="#222" stroke-width="0.4"/>
<circle cx="300.8" cy="910.4" r="0.95" fill="#8070c6" stroke="#222" stroke-width="0.4"/>
<circle cx="286.6" cy="901.6" r="0.95" fill="#7562cb" stroke="#222" stroke-width="0.4"/>
<circle cx="328.7" cy="928.0" r="0.95" fill="#988fbd" stroke="#222" stroke-width="0.4"/>
<circle cx="308.6" cy="915.8" r="0.95" fill="#8677c3" stroke="#222" stroke-width="0.4"/>
<circle cx="321.2" cy="923.1" r="0.95" fill="#9186bf" stroke="#222" stroke-width="0.4"/>
<circle cx="302.7" cy="911.9" r="0.95" fill="#8272c5" stroke="#222" stroke-width="0.4"/>
<circle cx="312.5" cy="916.6" r="0.95" fill="#8a7cc1" stroke="#222" stroke-width="0.4"/>
<circle cx="283.7" cy="898.8" r="0.95" fill="#735fcc" stroke="#222" stroke-width="0.4"/>
<circle cx="297.2" cy="907.5" r="0.95" fill="#7e6cc7" stroke="#222" stroke-width="0.4"/>
<circle cx="322.9" cy="924.8" r="0.95" fill="#9388be" stroke="#222" stroke-width="0.4"/>
<circle cx="328.6" cy="926.8" r="0.95" fill="#988fbd" stroke="#222" stroke-width="0.4"/>
<circle cx="296.7" cy="906.5" r="0.95" fill="#7d6cc7" stroke="#222" stroke-width="0.4"/>
<circle cx="328.4" cy="927.2" r="0.95" fill="#988ebd" stroke="#222" stroke-width="0.4"/>
<circle cx="306.9" cy="913.4" r="0.95" fill="#8576c3" stroke="#222" stroke-width="0.4"/>
<circle cx="314.6" cy="917.7" r="0.95" fill="#8c7ec1" stroke="#222" stroke-width="0.4"/>
<circle cx="325.9" cy="925.8" r="0.95" fill="#958bbe" stroke="#222" stroke-width="0.4"/>
<circle cx="295.0" cy="905.6" r="0.95" fill="#7c6ac8" stroke="#222" stroke-width="0.4"/>
<circle cx="295.0" cy="905.9" r="0.95" fill="#7c6ac8" stroke="#222" stroke-width="0.4"/>
<circle cx="292.4" cy="903.9" r="0.95" fill="#7a68c9" stroke="#222" stroke-width="0.4"/>
<circle cx="313.0" cy="917.3" r="0.95" fill="#8a7dc1" stroke="#222" stroke-width="0.4"/>
<circle cx="287.4" cy="900.8" r="0.95" fill="#7663cb" stroke="#222" stroke-width="0.4"/>
<circle cx="310.0" cy="915.2" r="0.95" fill="#8879c2" stroke="#222" stroke-width="0.4"/>
<circle cx="289.1" cy="902.4" r="0.95" fill="#7765ca" stroke="#222" stroke-width="0.4"/>
<circle cx="300.3" cy="909.9" r="0.95" fill="#806fc6" stroke="#222" stroke-width="0.4"/>
<circle cx="302.2" cy="910.7" r="0.95" fill="#8271c5" stroke="#222" stroke-width="0.4"/>
<circle cx="325.7" cy="925.4" r="0.95" fill="#958bbe" stroke="#222" stroke-width="0.4"/>
<circle cx="283.1" cy="898.0" r="0.95" fill="#735fcc" stroke="#222" stroke-width="0.4"/>
<circle cx="295.5" cy="906.8" r="0.95" fill="#7c6bc8" stroke="#222" stroke-width="0.4"/>
<circle cx="295.1" cy="906.2" r="0.95" fill="#7c6ac8" stroke="#222" stroke-width="0.4"/>
<circle cx="308.9" cy="914.4" r="0.95" fill="#8778c2" stroke="#222" stroke-width="0.4"/>
<circle cx="325.5" cy="925.1" r="0.95" fill="#958bbe" stroke="#222" stroke-width="0.4"/>
<circle cx="328.0" cy="927.0" r="0.95" fill="#978ebd" stroke="#222" stroke-width="0.4"/>
<circle cx="307.0" cy="914.4" r="0.95" fill="#8576c3" stroke="#222" stroke-width="0.4"/>
<circle cx="296.9" cy="907.5" r="0.95" fill="#7d6cc7" stroke="#222" stroke-width="0.4"/>
<circle cx="300.8" cy="909.1" r="0.95" fill="#8070c6" stroke="#222" stroke-width="0.4"/>
<circle cx="317.5" cy="921.5" r="0.95" fill="#8e82c0" stroke="#222" stroke-width="0.4"/>
<circle cx="315.4" cy="918.9" r="0.95" fill="#8c7fc1" stroke="#222" stroke-width="0.4"/>
<circle cx="320.0" cy="922.7" r="0.95" fill="#9085bf" stroke="#222" stroke-width="0.4"/>
<circle cx="287.2" cy="901.0" r="0.95" fill="#7663cb" stroke="#222" stroke-width="0.4"/>
<circle cx="308.8" cy="914.3" r="0.95" fill="#8778c2" stroke="#222" stroke-width="0.4"/>
<circle cx="314.2" cy="918.1" r="0.95" fill="#8b7ec1" stroke="#222" stroke-width="0.4"/>
<circle cx="320.2" cy="922.4" r="0.95" fill="#9085bf" stroke="#222" stroke-width="0.4"/>
<circle cx="291.8" cy="903.5" r="0.95" fill="#7967c9" stroke="#222" stroke-width="0.4"/>
<circle cx="288.4" cy="902.3" r="0.95" fill="#7764ca" stroke="#222" stroke-width="0.4"/>
<circle cx="302.2" cy="911.2" r="0.95" fill="#8271c5" stroke="#222" stroke-width="0.4"/>
<circle cx="323.1" cy="924.1" r="0.95" fill="#9388be" stroke="#222" stroke-width="0.4"/>
<circle cx="290.4" cy="902.7" r="0.95" fill="#7866ca" stroke="#222" stroke-width="0.4"/>
<circle cx="296.3" cy="906.2" r="0.95" fill="#7d6bc7" stroke="#222" stroke-width="0.4"/>
<circle cx="316.5" cy="920.6" r="0.95" fill="#8d81c0" stroke="#222" stroke-width="0.4"/>
<circle cx="308.4" cy="915.2" r="0.95" fill="#8677c3" stroke="#222" stroke-width="0.4"/>
<circle cx="319.4" cy="921.9" r="0.95" fill="#9084bf" stroke="#222" stroke-width="0.4"/>
<circle cx="300.2" cy="909.6" r="0.95" fill="#806fc6" stroke="#222" stroke-width="0.4"/>
<circle cx="414.3" cy="913.1" r="0.95" fill="#d37f6b" stroke="#222" stroke-width="0.4"/>
<circle cx="440.2" cy="895.7" r="0.95" fill="#e16249" stroke="#222" stroke-width="0.4"/>
<circle cx="404.9" cy="921.2" r="0.95" fill="#cd8978" stroke="#222" stroke-width="0.4"/>
<circle cx="436.0" cy="899.5" r="0.95" fill="#df664e" stroke="#222" stroke-width="0.4"/>
<circle cx="429.6" cy="902.9" r="0.95" fill="#db6e56" stroke="#222" stroke-width="0.4"/>
<circle cx="414.0" cy="913.3" r="0.95" fill="#d2806b" stroke="#222" stroke-width="0.4"/>
<circle cx="402.8" cy="922.5" r="0.95" fill="#cc8b7a" stroke="#222" stroke-width="0.4"/>
<circle cx="419.7" cy="910.9" r="0.95" fill="#d67964" stroke="#222" stroke-width="0.4"/>
<circle cx="434.3" cy="900.3" r="0.95" fill="#de6850" stroke="#222" stroke-width="0.4"/>
<circle cx="407.5" cy="919.3" r="0.95" fill="#cf8674" stroke="#222" stroke-width="0.4"/>
<circle cx="426.5" cy="905.3" r="0.95" fill="#da715a" stroke="#222" stroke-width="0.4"/>
<circle cx="426.5" cy="904.9" r="0.95" fill="#da715a" stroke="#222" stroke-width="0.4"/>
<circle cx="433.4" cy="899.5" r="0.95" fill="#de6951" stroke="#222" stroke-width="0.4"/>
<circle cx="428.6" cy="904.3" r="0.95" fill="#db6f58" stroke="#222" stroke-width="0.4"/>
<circle cx="420.5" cy="910.0" r="0.95" fill="#d67863" stroke="#222" stroke-width="0.4"/>
<circle cx="402.4" cy="922.0" r="0.95" fill="#cc8b7b" stroke="#222" stroke-width="0.4"/>
<circle cx="429.8" cy="903.5" r="0.95" fill="#dc6d56" stroke="#222" stroke-width="0.4"/>
<circle cx="412.6" cy="915.2" r="0.95" fill="#d2816d" stroke="#222" stroke-width="0.4"/>
<circle cx="429.1" cy="903.3" r="0.95" fill="#db6e57" stroke="#222" stroke-width="0.4"/>
<circle cx="425.9" cy="905.1" r="0.95" fill="#d9725b" stroke="#222" stroke-width="0.4"/>
<circle cx="417.3" cy="911.0" r="0.95" fill="#d47c67" stroke="#222" stroke-width="0.4"/>
<circle cx="437.3" cy="898.5" r="0.95" fill="#e0654c" stroke="#222" stroke-width="0.4"/>
<circle cx="438.3" cy="896.5" r="0.95" fill="#e0644b" stroke="#222" stroke-width="0.4"/>
<circle cx="407.1" cy="918.8" r="0.95" fill="#ce8775" stroke="#222" stroke-width="0.4"/>
<circle cx="426.4" cy="904.5" r="0.95" fill="#da715b" stroke="#222" stroke-width="0.4"/>
<circle cx="416.7" cy="911.9" r="0.95" fill="#d47d68" stroke="#222" stroke-width="0.4"/>
<circle cx="436.2" cy="897.8" r="0.95" fill="#df664d" stroke="#222" stroke-width="0.4"/>
<circle cx="438.7" cy="896.7" r="0.95" fill="#e1634a" stroke="#222" stroke-width="0.4"/>
<circle cx="427.4" cy="905.2" r="0.95" fill="#da7059" stroke="#222" stroke-width="0.4"/>
<circle cx="430.1" cy="902.1" r="0.95" fill="#dc6d56" stroke="#222" stroke-width="0.4"/>
<circle cx="427.0" cy="904.4" r="0.95" fill="#da715a" stroke="#222" stroke-width="0.4"/>
<circle cx="410.3" cy="915.7" r="0.95" fill="#d08470" stroke="#222" stroke-width="0.4"/>
<circle cx="440.2" cy="894.7" r="0.95" fill="#e16249" stroke="#222" stroke-width="0.4"/>
<circle cx="422.9" cy="907.1" r="0.95" fill="#d8755f" stroke="#222" stroke-width="0.4"/>
<circle cx="414.5" cy="912.8" r="0.95" fill="#d37f6b" stroke="#222" stroke-width="0.4"/>
<circle cx="435.3" cy="899.3" r="0.95" fill="#df674f" stroke="#222" stroke-width="0.4"/>
<circle cx="405.2" cy="920.1" r="0.95" fill="#cd8877" stroke="#222" stroke-width="0.4"/>
<circle cx="423.4" cy="906.8" r="0.95" fill="#d8755f" stroke="#222" stroke-width="0.4"/>
<circle cx="421.0" cy="910.0" r="0.95" fill="#d67862" stroke="#222" stroke-width="0.4"/>
<circle cx="433.5" cy="901.2" r="0.95" fill="#de6951" stroke="#222" stroke-width="0.4"/>
<circle cx="433.1" cy="901.2" r="0.95" fill="#dd6a52" stroke="#222" stroke-width="0.4"/>
<circle cx="415.1" cy="912.6" r="0.95" fill="#d37e6a" stroke="#222" stroke-width="0.4"/>
<circle cx="407.5" cy="919.1" r="0.95" fill="#cf8674" stroke="#222" stroke-width="0.4"/>
<circle cx="422.1" cy="907.8" r="0.95" fill="#d77660" stroke="#222" stroke-width="0.4"/>
<circle cx="434.7" cy="899.1" r="0.95" fill="#de684f" stroke="#222" stroke-width="0.4"/>
<circle cx="438.8" cy="896.6" r="0.95" fill="#e1634a" stroke="#222" stroke-width="0.4"/>
<circle cx="438.9" cy="897.3" r="0.95" fill="#e1634a" stroke="#222" stroke-width="0.4"/>
<circle cx="410.6" cy="916.2" r="0.95" fill="#d08370" stroke="#222" stroke-width="0.4"/>
<circle cx="413.3" cy="914.0" r="0.95" fill="#d2806c" stroke="#222" stroke-width="0.4"/>
<circle cx="426.9" cy="904.9" r="0.95" fill="#da715a" stroke="#222" stroke-width="0.4"/>
<circle cx="434.8" cy="899.3" r="0.95" fill="#de684f" stroke="#222" stroke-width="0.4"/>
<circle cx="414.2" cy="914.1" r="0.95" fill="#d37f6b" stroke="#222" stroke-width="0.4"/>
<circle cx="434.9" cy="898.6" r="0.95" fill="#df674f" stroke="#222" stroke-width="0.4"/>
<circle cx="410.1" cy="916.0" r="0.95" fill="#d08471" stroke="#222" stroke-width="0.4"/>
<circle cx="439.7" cy="896.0" r="0.95" fill="#e16249" stroke="#222" stroke-width="0.4"/>
<circle cx="424.3" cy="907.3" r="0.95" fill="#d8745d" stroke="#222" stroke-width="0.4"/>
<circle cx="422.9" cy="907.7" r="0.95" fill="#d8755f" stroke="#222" stroke-width="0.4"/>
<circle cx="425.6" cy="906.8" r="0.95" fill="#d9725c" stroke="#222" stroke-width="0.4"/>
<circle cx="439.7" cy="895.9" r="0.95" fill="#e16249" stroke="#222" stroke-width="0.4"/>
<circle cx="417.6" cy="910.8" r="0.95" fill="#d57b66" stroke="#222" stroke-width="0.4"/>
<circle cx="423.9" cy="907.0" r="0.95" fill="#d8745e" stroke="#222" stroke-width="0.4"/>
<circle cx="428.9" cy="904.4" r="0.95" fill="#db6e57" stroke="#222" stroke-width="0.4"/>
<circle cx="423.0" cy="907.8" r="0.95" fill="#d8755f" stroke="#222" stroke-width="0.4"/>
<circle cx="439.2" cy="895.5" r="0.95" fill="#e1634a" stroke="#222" stroke-width="0.4"/>
<circle cx="412.5" cy="915.0" r="0.95" fill="#d2816d" stroke="#222" stroke-width="0.4"/>
<circle cx="346.0" cy="928.8" r="0.95" fill="#a7a3b8" stroke="#222" stroke-width="0.4"/>
<circle cx="328.8" cy="917.4" r="0.95" fill="#988fbd" stroke="#222" stroke-width="0.4"/>
<circle cx="337.3" cy="923.6" r="0.95" fill="#9f99ba" stroke="#222" stroke-width="0.4"/>
<circle cx="344.4" cy="927.5" r="0.95" fill="#a5a1b8" stroke="#222" stroke-width="0.4"/>
<circle cx="326.1" cy="917.0" r="0.95" fill="#968cbd" stroke="#222" stroke-width="0.4"/>
<circle cx="329.7" cy="919.4" r="0.95" fill="#9990bc" stroke="#222" stroke-width="0.4"/>
<circle cx="344.3" cy="928.1" r="0.95" fill="#a5a1b8" stroke="#222" stroke-width="0.4"/>
<circle cx="332.0" cy="920.3" r="0.95" fill="#9b93bc" stroke="#222" stroke-width="0.4"/>
<circle cx="340.3" cy="924.9" r="0.95" fill="#a29cb9" stroke="#222" stroke-width="0.4"/>
<circle cx="346.5" cy="928.6" r="0.95" fill="#a7a3b8" stroke="#222" stroke-width="0.4"/>
<circle cx="346.1" cy="928.7" r="0.95" fill="#a7a3b8" stroke="#222" stroke-width="0.4"/>
<circle cx="342.9" cy="927.3" r="0.95" fill="#a49fb9" stroke="#222" stroke-width="0.4"/>
<circle cx="335.9" cy="922.6" r="0.95" fill="#9e97bb" stroke="#222" stroke-width="0.4"/>
<circle cx="339.8" cy="925.0" r="0.95" fill="#a19bba" stroke="#222" stroke-width="0.4"/>
<circle cx="336.0" cy="923.0" r="0.95" fill="#9e97bb" stroke="#222" stroke-width="0.4"/>
<circle cx="344.1" cy="927.2" r="0.95" fill="#a5a0b8" stroke="#222" stroke-width="0.4"/>
<circle cx="333.3" cy="920.7" r="0.95" fill="#9c94bb" stroke="#222" stroke-width="0.4"/>
<circle cx="328.0" cy="917.3" r="0.95" fill="#978ebd" stroke="#222" stroke-width="0.4"/>
<circle cx="327.8" cy="917.9" r="0.95" fill="#978ebd" stroke="#222" stroke-width="0.4"/>
<circle cx="330.7" cy="918.7" r="0.95" fill="#9a91bc" stroke="#222" stroke-width="0.4"/>
<circle cx="326.7" cy="917.0" r="0.95" fill="#968cbd" stroke="#222" stroke-width="0.4"/>
<circle cx="341.3" cy="925.0" r="0.95" fill="#a39db9" stroke="#222" stroke-width="0.4"/>
<circle cx="343.7" cy="926.4" r="0.95" fill="#a5a0b8" stroke="#222" stroke-width="0.4"/>
<circle cx="327.1" cy="917.6" r="0.95" fill="#968dbd" stroke="#222" stroke-width="0.4"/>
<circle cx="343.2" cy="926.5" r="0.95" fill="#a49fb9" stroke="#222" stroke-width="0.4"/>
<circle cx="342.7" cy="927.3" r="0.95" fill="#a49fb9" stroke="#222" stroke-width="0.4"/>
<circle cx="328.4" cy="917.9" r="0.95" fill="#988ebd" stroke="#222" stroke-width="0.4"/>
<circle cx="329.5" cy="919.1" r="0.95" fill="#9990bc" stroke="#222" stroke-width="0.4"/>
<circle cx="339.1" cy="924.1" r="0.95" fill="#a19bba" stroke="#222" stroke-width="0.4"/>
<circle cx="348.7" cy="930.8" r="0.95" fill="#a9a6b7" stroke="#222" stroke-width="0.4"/>
<circle cx="332.2" cy="919.4" r="0.95" fill="#9b93bc" stroke="#222" stroke-width="0.4"/>
<circle cx="325.0" cy="916.3" r="0.95" fill="#958abe" stroke="#222" stroke-width="0.4"/>
<circle cx="336.6" cy="922.4" r="0.95" fill="#9f98ba" stroke="#222" stroke-width="0.4"/>
<circle cx="336.6" cy="922.6" r="0.95" fill="#9f98ba" stroke="#222" stroke-width="0.4"/>
<circle cx="344.4" cy="928.4" r="0.95" fill="#a6a1b8" stroke="#222" stroke-width="0.4"/>
<circle cx="376.7" cy="928.2" r="0.95" fill="#bda49e" stroke="#222" stroke-width="0.4"/>
<circle cx="389.8" cy="919.8" r="0.95" fill="#c4978c" stroke="#222" stroke-width="0.4"/>
<circle cx="390.3" cy="920.2" r="0.95" fill="#c5978b" stroke="#222" stroke-width="0.4"/>
<circle cx="379.0" cy="926.6" r="0.95" fill="#bea29b" stroke="#222" stroke-width="0.4"/>
<circle cx="398.3" cy="914.2" r="0.95" fill="#c98f80" stroke="#222" stroke-width="0.4"/>
<circle cx="400.9" cy="914.2" r="0.95" fill="#cb8d7d" stroke="#222" stroke-width="0.4"/>
<circle cx="375.3" cy="927.4" r="0.95" fill="#bca5a0" stroke="#222" stroke-width="0.4"/>
<circle cx="387.2" cy="920.9" r="0.95" fill="#c39a90" stroke="#222" stroke-width="0.4"/>
<circle cx="383.2" cy="923.7" r="0.95" fill="#c19e95" stroke="#222" stroke-width="0.4"/>
<circle cx="388.7" cy="920.6" r="0.95" fill="#c4988d" stroke="#222" stroke-width="0.4"/>
<circle cx="391.3" cy="919.9" r="0.95" fill="#c5968a" stroke="#222" stroke-width="0.4"/>
<circle cx="394.2" cy="916.8" r="0.95" fill="#c79386" stroke="#222" stroke-width="0.4"/>
<circle cx="378.9" cy="926.2" r="0.95" fill="#bea29b" stroke="#222" stroke-width="0.4"/>
<circle cx="395.4" cy="916.9" r="0.95" fill="#c89285" stroke="#222" stroke-width="0.4"/>
<circle cx="379.3" cy="926.5" r="0.95" fill="#bea19a" stroke="#222" stroke-width="0.4"/>
<circle cx="388.7" cy="921.3" r="0.95" fill="#c4988e" stroke="#222" stroke-width="0.4"/>
<circle cx="399.9" cy="913.6" r="0.95" fill="#ca8e7e" stroke="#222" stroke-width="0.4"/>
<circle cx="394.3" cy="916.7" r="0.95" fill="#c79386" stroke="#222" stroke-width="0.4"/>
<circle cx="392.1" cy="918.7" r="0.95" fill="#c69589" stroke="#222" stroke-width="0.4"/>
<circle cx="391.2" cy="919.0" r="0.95" fill="#c5968a" stroke="#222" stroke-width="0.4"/>
<circle cx="402.6" cy="912.1" r="0.95" fill="#cc8b7b" stroke="#222" stroke-width="0.4"/>
<circle cx="381.1" cy="924.1" r="0.95" fill="#bfa098" stroke="#222" stroke-width="0.4"/>
<circle cx="395.5" cy="916.1" r="0.95" fill="#c89284" stroke="#222" stroke-width="0.4"/>
<circle cx="397.6" cy="915.6" r="0.95" fill="#c99081" stroke="#222" stroke-width="0.4"/>
<circle cx="400.0" cy="913.4" r="0.95" fill="#ca8d7e" stroke="#222" stroke-width="0.4"/>
<circle cx="394.0" cy="917.0" r="0.95" fill="#c79386" stroke="#222" stroke-width="0.4"/>
<circle cx="396.1" cy="916.4" r="0.95" fill="#c89183" stroke="#222" stroke-width="0.4"/>
<circle cx="394.9" cy="917.7" r="0.95" fill="#c79285" stroke="#222" stroke-width="0.4"/>
<circle cx="383.6" cy="923.5" r="0.95" fill="#c19d94" stroke="#222" stroke-width="0.4"/>
<circle cx="373.8" cy="929.3" r="0.95" fill="#bba7a2" stroke="#222" stroke-width="0.4"/>
<circle cx="392.4" cy="918.2" r="0.95" fill="#c69589" stroke="#222" stroke-width="0.4"/>
<circle cx="380.4" cy="924.5" r="0.95" fill="#bfa099" stroke="#222" stroke-width="0.4"/>
<circle cx="393.2" cy="918.2" r="0.95" fill="#c69487" stroke="#222" stroke-width="0.4"/>
<circle cx="393.0" cy="917.9" r="0.95" fill="#c69488" stroke="#222" stroke-width="0.4"/>
<circle cx="389.3" cy="920.4" r="0.95" fill="#c4988d" stroke="#222" stroke-width="0.4"/>
<circle cx="293.2" cy="923.9" r="1.05" fill="#7b69c8" stroke="#222" stroke-width="0.4"/>
<circle cx="308.6" cy="925.9" r="1.05" fill="#8677c3" stroke="#222" stroke-width="0.4"/>
<circle cx="294.2" cy="924.9" r="1.05" fill="#7b69c8" stroke="#222" stroke-width="0.4"/>
<circle cx="313.1" cy="926.5" r="1.05" fill="#8a7dc1" stroke="#222" stroke-width="0.4"/>
<circle cx="331.7" cy="929.6" r="1.05" fill="#9a92bc" stroke="#222" stroke-width="0.4"/>
<circle cx="342.4" cy="931.4" r="1.05" fill="#a49eb9" stroke="#222" stroke-width="0.4"/>
<circle cx="325.5" cy="929.2" r="1.05" fill="#958bbe" stroke="#222" stroke-width="0.4"/>
<circle cx="332.0" cy="928.9" r="1.05" fill="#9b92bc" stroke="#222" stroke-width="0.4"/>
<circle cx="316.5" cy="927.3" r="1.05" fill="#8d80c0" stroke="#222" stroke-width="0.4"/>
<circle cx="294.8" cy="924.2" r="1.05" fill="#7c6ac8" stroke="#222" stroke-width="0.4"/>
<circle cx="293.4" cy="923.9" r="1.05" fill="#7b69c8" stroke="#222" stroke-width="0.4"/>
<circle cx="303.0" cy="926.1" r="1.05" fill="#8272c5" stroke="#222" stroke-width="0.4"/>
<circle cx="314.0" cy="926.6" r="1.05" fill="#8b7ec1" stroke="#222" stroke-width="0.4"/>
<circle cx="342.7" cy="930.4" r="1.05" fill="#a49fb9" stroke="#222" stroke-width="0.4"/>
<circle cx="384.4" cy="929.9" r="1.05" fill="#c19d93" stroke="#222" stroke-width="0.4"/>
<circle cx="384.9" cy="929.8" r="1.05" fill="#c29c93" stroke="#222" stroke-width="0.4"/>
<circle cx="407.8" cy="926.9" r="1.05" fill="#cf8674" stroke="#222" stroke-width="0.4"/>
<circle cx="425.1" cy="923.7" r="1.05" fill="#d9735c" stroke="#222" stroke-width="0.4"/>
<circle cx="403.4" cy="926.8" r="1.05" fill="#cc8a7a" stroke="#222" stroke-width="0.4"/>
<circle cx="395.1" cy="928.5" r="1.05" fill="#c79285" stroke="#222" stroke-width="0.4"/>
<circle cx="410.1" cy="925.8" r="1.05" fill="#d08471" stroke="#222" stroke-width="0.4"/>
<circle cx="390.8" cy="928.5" r="1.05" fill="#c5968b" stroke="#222" stroke-width="0.4"/>
<circle cx="391.5" cy="929.5" r="1.05" fill="#c5968a" stroke="#222" stroke-width="0.4"/>
<circle cx="388.8" cy="929.8" r="1.05" fill="#c4988d" stroke="#222" stroke-width="0.4"/>
<circle cx="384.2" cy="929.5" r="1.05" fill="#c19d94" stroke="#222" stroke-width="0.4"/>
<circle cx="396.3" cy="927.4" r="1.05" fill="#c89183" stroke="#222" stroke-width="0.4"/>
<circle cx="414.9" cy="925.8" r="1.05" fill="#d37f6a" stroke="#222" stroke-width="0.4"/>
<circle cx="427.4" cy="922.6" r="1.05" fill="#da7059" stroke="#222" stroke-width="0.4"/>
<circle cx="353.8" cy="920.3" r="1.05" fill="#aeacb5" stroke="#222" stroke-width="0.4"/>
<circle cx="358.8" cy="926.0" r="1.05" fill="#b2b1b4" stroke="#222" stroke-width="0.4"/>
<circle cx="366.4" cy="929.1" r="1.05" fill="#b7aeac" stroke="#222" stroke-width="0.4"/>
<circle cx="360.1" cy="919.9" r="1.05" fill="#b3b3b4" stroke="#222" stroke-width="0.4"/>
<circle cx="362.9" cy="926.1" r="1.05" fill="#b5b1b0" stroke="#222" stroke-width="0.4"/>
<circle cx="366.5" cy="921.5" r="1.05" fill="#b7aeac" stroke="#222" stroke-width="0.4"/>
<circle cx="361.2" cy="930.8" r="1.05" fill="#b4b3b3" stroke="#222" stroke-width="0.4"/>
<circle cx="361.5" cy="926.2" r="1.05" fill="#b4b3b2" stroke="#222" stroke-width="0.4"/>
<circle cx="355.6" cy="931.6" r="1.05" fill="#afaeb5" stroke="#222" stroke-width="0.4"/>
<circle cx="360.2" cy="930.6" r="1.05" fill="#b3b3b4" stroke="#222" stroke-width="0.4"/>
<circle cx="359.0" cy="923.4" r="1.05" fill="#b2b2b4" stroke="#222" stroke-width="0.4"/>
<circle cx="359.2" cy="928.8" r="1.05" fill="#b2b2b4" stroke="#222" stroke-width="0.4"/>
<circle cx="360.9" cy="926.7" r="1.05" fill="#b4b3b3" stroke="#222" stroke-width="0.4"/>
<circle cx="363.7" cy="925.3" r="1.05" fill="#b5b0af" stroke="#222" stroke-width="0.4"/>
<circle cx="366.7" cy="919.7" r="1.05" fill="#b7aeab" stroke="#222" stroke-width="0.4"/>
<circle cx="363.1" cy="929.1" r="1.05" fill="#b5b1b0" stroke="#222" stroke-width="0.4"/>
<circle cx="354.4" cy="920.4" r="1.05" fill="#aeacb5" stroke="#222" stroke-width="0.4"/>
<circle cx="363.8" cy="924.0" r="1.05" fill="#b5b0af" stroke="#222" stroke-width="0.4"/>
<circle cx="342.8" cy="888.2" r="1.05" fill="#a49fb9" stroke="#222" stroke-width="0.4"/>
<circle cx="348.8" cy="906.1" r="1.05" fill="#a9a6b7" stroke="#222" stroke-width="0.4"/>
<circle cx="347.7" cy="911.0" r="1.05" fill="#a8a5b7" stroke="#222" stroke-width="0.4"/>
<circle cx="339.6" cy="908.4" r="1.05" fill="#a19bba" stroke="#222" stroke-width="0.4"/>
<circle cx="314.0" cy="909.1" r="1.05" fill="#8b7ec1" stroke="#222" stroke-width="0.4"/>
<circle cx="319.1" cy="910.7" r="1.05" fill="#9084bf" stroke="#222" stroke-width="0.4"/>
<circle cx="291.5" cy="912.5" r="1.05" fill="#7967c9" stroke="#222" stroke-width="0.4"/>
<circle cx="296.9" cy="922.9" r="1.05" fill="#7d6cc7" stroke="#222" stroke-width="0.4"/>
<circle cx="294.5" cy="920.3" r="1.05" fill="#7c6ac8" stroke="#222" stroke-width="0.4"/>
<circle cx="273.8" cy="893.1" r="1.05" fill="#6854d1" stroke="#222" stroke-width="0.4"/>
<circle cx="281.9" cy="909.0" r="1.05" fill="#715dcd" stroke="#222" stroke-width="0.4"/>
<circle cx="291.6" cy="912.1" r="1.05" fill="#7967c9" stroke="#222" stroke-width="0.4"/>
<circle cx="282.2" cy="898.5" r="1.05" fill="#725ecd" stroke="#222" stroke-width="0.4"/>
<circle cx="283.5" cy="899.0" r="1.05" fill="#735fcc" stroke="#222" stroke-width="0.4"/>
<circle cx="371.9" cy="863.9" r="1.05" fill="#baa9a4" stroke="#222" stroke-width="0.4"/>
<circle cx="365.7" cy="891.2" r="1.05" fill="#b6afad" stroke="#222" stroke-width="0.4"/>
<circle cx="445.1" cy="893.1" r="1.05" fill="#e35d44" stroke="#222" stroke-width="0.4"/>
<circle cx="444.3" cy="897.4" r="1.05" fill="#e35e45" stroke="#222" stroke-width="0.4"/>
<circle cx="448.6" cy="898.0" r="1.05" fill="#e45a41" stroke="#222" stroke-width="0.4"/>
<circle cx="456.2" cy="893.4" r="1.05" fill="#e75239" stroke="#222" stroke-width="0.4"/>
<circle cx="457.4" cy="895.5" r="1.05" fill="#e75138" stroke="#222" stroke-width="0.4"/>
<circle cx="458.9" cy="901.8" r="1.05" fill="#e85037" stroke="#222" stroke-width="0.4"/>
<circle cx="441.0" cy="906.0" r="1.05" fill="#e16148" stroke="#222" stroke-width="0.4"/>
<circle cx="434.0" cy="906.8" r="1.05" fill="#de6950" stroke="#222" stroke-width="0.4"/>
<circle cx="421.2" cy="921.4" r="1.05" fill="#d77762" stroke="#222" stroke-width="0.4"/>
<circle cx="424.1" cy="923.4" r="1.05" fill="#d8745e" stroke="#222" stroke-width="0.4"/>
<circle cx="431.1" cy="919.6" r="1.05" fill="#dc6c54" stroke="#222" stroke-width="0.4"/>
<circle cx="410.2" cy="910.2" r="1.05" fill="#d08470" stroke="#222" stroke-width="0.4"/>
<circle cx="366.0" cy="905.0" r="1.05" fill="#b7aeac" stroke="#222" stroke-width="0.4"/>
<circle cx="368.0" cy="902.0" r="1.05" fill="#b8aca9" stroke="#222" stroke-width="0.4"/>
<circle cx="374.0" cy="908.0" r="1.05" fill="#bba7a1" stroke="#222" stroke-width="0.4"/>
<circle cx="376.0" cy="912.0" r="1.05" fill="#bca59f" stroke="#222" stroke-width="0.4"/>
<circle cx="370.0" cy="914.0" r="1.05" fill="#b9aaa7" stroke="#222" stroke-width="0.4"/>
<circle cx="363.0" cy="917.0" r="1.05" fill="#b5b1b0" stroke="#222" stroke-width="0.4"/>
<circle cx="367.0" cy="921.0" r="1.05" fill="#b7adab" stroke="#222" stroke-width="0.4"/>
<circle cx="358.0" cy="920.0" r="1.05" fill="#b1b1b4" stroke="#222" stroke-width="0.4"/>
<circle cx="352.0" cy="916.0" r="1.05" fill="#acaab6" stroke="#222" stroke-width="0.4"/>
<circle cx="355.0" cy="922.0" r="1.05" fill="#afadb5" stroke="#222" stroke-width="0.4"/>
<circle cx="372.0" cy="920.0" r="1.05" fill="#baa8a4" stroke="#222" stroke-width="0.4"/>
<circle cx="378.0" cy="918.0" r="1.05" fill="#bea39c" stroke="#222" stroke-width="0.4"/>
<circle cx="350.0" cy="925.0" r="1.05" fill="#aaa7b7" stroke="#222" stroke-width="0.4"/>
<circle cx="362.0" cy="925.0" r="1.05" fill="#b4b2b2" stroke="#222" stroke-width="0.4"/>
<circle cx="357.0" cy="927.0" r="1.05" fill="#b0afb5" stroke="#222" stroke-width="0.4"/>
<circle cx="396.0" cy="912.0" r="1.05" fill="#c89184" stroke="#222" stroke-width="0.4"/>
<circle cx="398.0" cy="914.0" r="1.05" fill="#c98f81" stroke="#222" stroke-width="0.4"/>
<circle cx="400.0" cy="913.0" r="1.05" fill="#ca8d7e" stroke="#222" stroke-width="0.4"/>
<circle cx="392.0" cy="916.0" r="1.05" fill="#c69589" stroke="#222" stroke-width="0.4"/>
<text x="241.2" y="735.0" font-size="5" fill="#222">665</text>
<text x="211.6" y="879.5" font-size="5" fill="#222">813</text>
<text x="469.3" y="734.4" font-size="5" fill="#222">3115</text>
<text x="470.3" y="742.2" font-size="5" fill="#222">4473</text>
<text x="511.4" y="878.3" font-size="5" fill="#222">1565</text>
<line x1="308.70" y1="718.3" x2="308.70" y2="943.2" stroke="#666" stroke-width="0.8"/>
<line x1="412.40" y1="718.3" x2="412.40" y2="943.2" stroke="#666" stroke-width="0.8"/>
<line x1="195.3" y1="902.11" x2="525.3" y2="902.11" stroke="#666" stroke-width="0.8"/>
<rect x="195.3" y="718.3" width="329.99999999999994" height="224.9000000000001" fill="none" stroke="#999" stroke-width="1"/>
<line x1="205.00" y1="943.2" x2="205.00" y2="944.8000000000001" stroke="#555" stroke-width="0.8"/>
<text x="197.13" y="956.40" font-size="13.20" font-weight="normal" font-style="normal" fill="#222" text-anchor="start" stroke="#222" stroke-width="0.22" >-3</text>
<line x1="256.85" y1="943.2" x2="256.85" y2="944.8000000000001" stroke="#555" stroke-width="0.8"/>
<text x="249.57" y="956.40" font-size="13.20" font-weight="normal" font-style="normal" fill="#222" text-anchor="start" stroke="#222" stroke-width="0.22" >-2</text>
<line x1="308.70" y1="943.2" x2="308.70" y2="944.8000000000001" stroke="#555" stroke-width="0.8"/>
<text x="302.66" y="956.40" font-size="13.20" font-weight="normal" font-style="normal" fill="#222" text-anchor="start" stroke="#222" stroke-width="0.22" >-1</text>
<line x1="360.55" y1="943.2" x2="360.55" y2="944.8000000000001" stroke="#555" stroke-width="0.8"/>
<text x="357.13" y="956.40" font-size="13.20" font-weight="normal" font-style="normal" fill="#222" text-anchor="start" stroke="#222" stroke-width="0.22" >0</text>
<line x1="412.40" y1="943.2" x2="412.40" y2="944.8000000000001" stroke="#555" stroke-width="0.8"/>
<text x="408.15" y="956.40" font-size="13.20" font-weight="normal" font-style="normal" fill="#222" text-anchor="start" stroke="#222" stroke-width="0.22" >1</text>
<line x1="464.25" y1="943.2" x2="464.25" y2="944.8000000000001" stroke="#555" stroke-width="0.8"/>
<text x="460.13" y="956.40" font-size="13.20" font-weight="normal" font-style="normal" fill="#222" text-anchor="start" stroke="#222" stroke-width="0.22" >2</text>
<line x1="516.10" y1="943.2" x2="516.10" y2="944.8000000000001" stroke="#555" stroke-width="0.8"/>
<text x="511.97" y="956.40" font-size="13.20" font-weight="normal" font-style="normal" fill="#222" text-anchor="start" stroke="#222" stroke-width="0.22" >3</text>
<line x1="193.70000000000002" y1="933.50" x2="195.3" y2="933.50" stroke="#555" stroke-width="0.8"/>
<text x="183.57" y="938.10" font-size="13.20" font-weight="normal" font-style="normal" fill="#222" text-anchor="start" stroke="#222" stroke-width="0.22" >0</text>
<line x1="193.70000000000002" y1="885.25" x2="195.3" y2="885.25" stroke="#555" stroke-width="0.8"/>
<text x="183.72" y="889.85" font-size="13.20" font-weight="normal" font-style="normal" fill="#222" text-anchor="start" stroke="#222" stroke-width="0.22" >2</text>
<line x1="193.70000000000002" y1="837.00" x2="195.3" y2="837.00" stroke="#555" stroke-width="0.8"/>
<text x="183.45" y="841.60" font-size="13.20" font-weight="normal" font-style="normal" fill="#222" text-anchor="start" stroke="#222" stroke-width="0.22" >4</text>
<line x1="193.70000000000002" y1="788.75" x2="195.3" y2="788.75" stroke="#555" stroke-width="0.8"/>
<text x="183.64" y="793.35" font-size="13.20" font-weight="normal" font-style="normal" fill="#222" text-anchor="start" stroke="#222" stroke-width="0.22" >6</text>
<line x1="193.70000000000002" y1="740.50" x2="195.3" y2="740.50" stroke="#555" stroke-width="0.8"/>
<text x="183.63" y="745.10" font-size="13.20" font-weight="normal" font-style="normal" fill="#222" text-anchor="start" stroke="#222" stroke-width="0.22" >8</text>
<text transform="matrix(0.7219,0,0,1,159.96,711.27)" x="0" y="0" font-size="28.27" font-weight="bold" fill="#000" stroke="#000" stroke-width="0.45" stroke-linejoin="round">E</text>
<text x="312.0" y="975.7" font-size="13.6" font-weight="bold">Log<tspan font-size="8.6" dy="3">2</tspan><tspan dy="-3">(Fold change)</tspan></text>
<text transform="translate(178.9,889.4) rotate(-90)" font-size="14.6" font-weight="bold">-Log<tspan font-size="8.8" dy="3.0">10</tspan><tspan dy="-3.0">(</tspan><tspan font-style="italic">p-value</tspan>)</text>
<text x="541.33" y="732.30" font-size="10.66" font-weight="normal" font-style="normal" fill="#222" >Log2(FC)</text>
<defs><linearGradient id="fc" x1="0" y1="0" x2="0" y2="1"><stop offset="0" stop-color="#FF2212"/><stop offset="0.25" stop-color="#E67C66"/><stop offset="0.5" stop-color="#BEBEBE"/><stop offset="0.75" stop-color="#8574DA"/><stop offset="1" stop-color="#1A12FF"/></linearGradient></defs>
<rect x="541.9" y="738.9" width="16.1" height="87.6" fill="url(#fc)"/>
<line x1="541.9" y1="752.4" x2="545" y2="752.4" stroke="#fff" stroke-width="0.8"/>
<line x1="555" y1="752.4" x2="558" y2="752.4" stroke="#fff" stroke-width="0.8"/>
<text x="563.80" y="755.80" font-size="9.40" font-weight="normal" font-style="normal" fill="#222" text-anchor="start" >2</text>
<line x1="541.9" y1="767.3" x2="545" y2="767.3" stroke="#fff" stroke-width="0.8"/>
<line x1="555" y1="767.3" x2="558" y2="767.3" stroke="#fff" stroke-width="0.8"/>
<text x="563.80" y="770.70" font-size="9.40" font-weight="normal" font-style="normal" fill="#222" text-anchor="start" >1</text>
<line x1="541.9" y1="782.4" x2="545" y2="782.4" stroke="#fff" stroke-width="0.8"/>
<line x1="555" y1="782.4" x2="558" y2="782.4" stroke="#fff" stroke-width="0.8"/>
<text x="563.80" y="785.80" font-size="9.40" font-weight="normal" font-style="normal" fill="#222" text-anchor="start" >0</text>
<line x1="541.9" y1="798.1" x2="545" y2="798.1" stroke="#fff" stroke-width="0.8"/>
<line x1="555" y1="798.1" x2="558" y2="798.1" stroke="#fff" stroke-width="0.8"/>
<text x="563.30" y="801.50" font-size="9.40" font-weight="normal" font-style="normal" fill="#222" text-anchor="start" >-1</text>
<line x1="541.9" y1="813.4" x2="545" y2="813.4" stroke="#fff" stroke-width="0.8"/>
<line x1="555" y1="813.4" x2="558" y2="813.4" stroke="#fff" stroke-width="0.8"/>
<text x="563.30" y="816.80" font-size="9.40" font-weight="normal" font-style="normal" fill="#222" text-anchor="start" >-2</text>
<text x="541.22" y="859.00" font-size="10.75" font-weight="normal" font-style="normal" fill="#222" >P-value</text>
<circle cx="550" cy="874.6" r="2.4" fill="none" stroke="#333" stroke-width="0.8"/>
<text x="563.40" y="877.60" font-size="8.40" font-weight="normal" font-style="normal" fill="#222" text-anchor="start" >0.1</text>
<circle cx="550" cy="892.1" r="2.6" fill="none" stroke="#333" stroke-width="0.8"/>
<text x="563.40" y="895.10" font-size="8.40" font-weight="normal" font-style="normal" fill="#222" text-anchor="start" >0.05</text>
<circle cx="550" cy="909.8" r="2.9" fill="none" stroke="#333" stroke-width="0.8"/>
<text x="563.40" y="912.80" font-size="8.40" font-weight="normal" font-style="normal" fill="#222" text-anchor="start" >0.01</text>
<circle cx="550" cy="927.6" r="3.2" fill="none" stroke="#333" stroke-width="0.8"/>
<text x="563.40" y="930.60" font-size="8.40" font-weight="normal" font-style="normal" fill="#222" text-anchor="start" >0.001</text>
</g>
</svg>
</div></body></html>
